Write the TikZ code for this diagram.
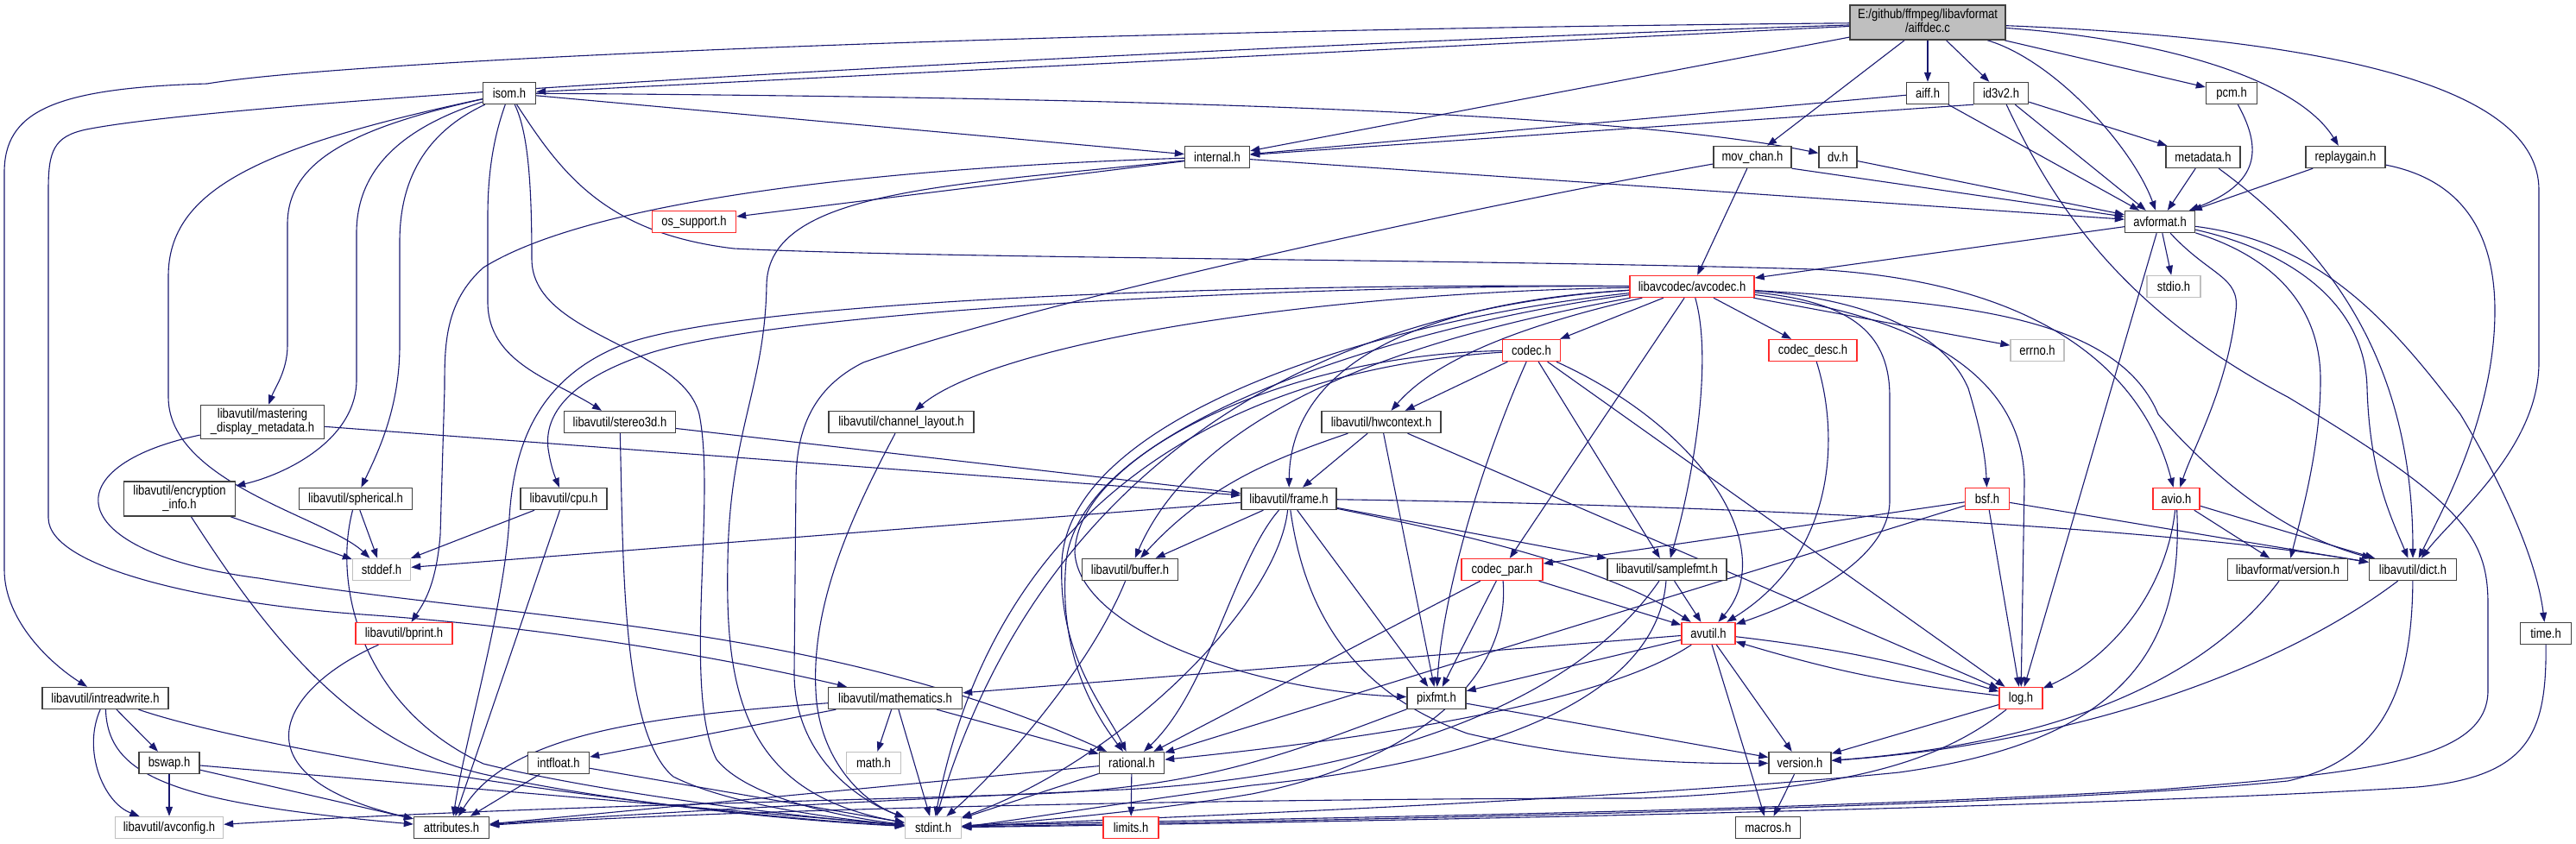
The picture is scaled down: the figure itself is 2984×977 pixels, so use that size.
\documentclass[tikz,border=0pt]{standalone}
\usepackage{graphicx}
\usepackage{fontspec}
\setmainfont{Liberation Sans}
\usetikzlibrary{arrows.meta}
\pgfdeclarelayer{edgelayer}
\pgfsetlayers{edgelayer,main}
\definecolor{edgec}{HTML}{191970}
\definecolor{redb}{HTML}{FF2A2A}
\definecolor{blkb}{HTML}{404040}
\definecolor{grayb}{HTML}{BFBFBF}
\definecolor{mainfill}{HTML}{BFBFBF}
\newcommand\nfnt{\fontsize{15.5}{15}\selectfont}
\newcommand\lb[1]{\scalebox{0.84}[1]{#1}}
\newcommand\lbb[2]{\scalebox{0.84}[1]{\begin{tabular}{@{}c@{}}#1\\#2\end{tabular}}}
\tikzset{
  nb/.style={draw=blkb, fill=white, line width=1.4pt, minimum height=25pt, inner sep=0pt, font=\nfnt},
  nr/.style={nb, draw=redb},
  ng/.style={nb, draw=grayb},
  mainbox/.style={nb, fill=mainfill, minimum width=180pt, minimum height=40pt},
  ed/.style={draw=edgec, line width=1.1pt, -{Triangle[length=11pt,width=8pt]}},
}
\begin{document}
\begin{tikzpicture}[x=1pt,y=-1pt]
\useasboundingbox (0,0) rectangle (2984,977);
% ---------------- nodes ----------------
\node[mainbox] (main) at (2233,26) {\lbb{E:/github/ffmpeg/libavformat}{/aiffdec.c}};
\node[nb,minimum width=61pt] (isom) at (590,108) {\lb{isom.h}};
\node[nb,minimum width=49pt] (aiff) at (2233,108) {\lb{aiff.h}};
\node[nb,minimum width=63pt] (id3v2) at (2318,108) {\lb{id3v2.h}};
\node[nb,minimum width=59pt] (pcm) at (2585,108) {\lb{pcm.h}};
\node[nb,minimum width=75pt] (internal) at (1410,182) {\lb{internal.h}};
\node[nb,minimum width=90pt] (movchan) at (2030,182) {\lb{mov\_chan.h}};
\node[nb,minimum width=44pt] (dv) at (2129,182) {\lb{dv.h}};
\node[nb,minimum width=86pt] (metadata) at (2552,182) {\lb{metadata.h}};
\node[nb,minimum width=92pt] (replaygain) at (2717,182) {\lb{replaygain.h}};
\node[nb,minimum width=81pt] (avformat) at (2502,257) {\lb{avformat.h}};
\node[nr,minimum width=97pt] (ossupport) at (804,257) {\lb{os\_support.h}};
\node[ng,minimum width=62pt] (stdio) at (2518,332) {\lb{stdio.h}};
\node[nr,minimum width=144pt] (avcodec) at (1960,332) {\lb{libavcodec/avcodec.h}};
\node[ng,minimum width=62pt] (errno) at (2360,406) {\lb{errno.h}};
\node[nr,minimum width=67pt] (codec) at (1774,406) {\lb{codec.h}};
\node[nr,minimum width=102pt] (codecdesc) at (2100,406) {\lb{codec\_desc.h}};
\node[nb,minimum width=143pt,minimum height=39pt] (mastering) at (304,489) {\lbb{libavutil/mastering}{\_display\_metadata.h}};
\node[nb,minimum width=129pt] (stereo) at (718,489) {\lb{libavutil/stereo3d.h}};
\node[nb,minimum width=168pt] (chlayout) at (1044,489) {\lb{libavutil/channel\_layout.h}};
\node[nb,minimum width=138pt] (hwcontext) at (1600,489) {\lb{libavutil/hwcontext.h}};
\node[nb,minimum width=129pt,minimum height=40pt] (encryption) at (208,578) {\lbb{libavutil/encryption}{\_info.h}};
\node[nb,minimum width=131pt] (spherical) at (412,578) {\lb{libavutil/spherical.h}};
\node[nb,minimum width=100pt] (cpu) at (653,578) {\lb{libavutil/cpu.h}};
\node[nb,minimum width=110pt] (frame) at (1493,578) {\lb{libavutil/frame.h}};
\node[nr,minimum width=51pt] (bsf) at (2302,578) {\lb{bsf.h}};
\node[nr,minimum width=54pt] (avio) at (2521,578) {\lb{avio.h}};
\node[ng,minimum width=67pt] (stddef) at (442,660) {\lb{stddef.h}};
\node[nb,minimum width=111pt] (buffer) at (1309,660) {\lb{libavutil/buffer.h}};
\node[nr,minimum width=94pt] (codecpar) at (1740,660) {\lb{codec\_par.h}};
\node[nb,minimum width=138pt] (samplefmt) at (1931,660) {\lb{libavutil/samplefmt.h}};
\node[nb,minimum width=139pt] (lavfversion) at (2650,660) {\lb{libavformat/version.h}};
\node[nb,minimum width=101pt] (dict) at (2795,660) {\lb{libavutil/dict.h}};
\node[nr,minimum width=112pt] (bprint) at (468,734) {\lb{libavutil/bprint.h}};
\node[nr,minimum width=62pt] (avutil) at (1979,734) {\lb{avutil.h}};
\node[nb,minimum width=59pt] (time) at (2949,734) {\lb{time.h}};
\node[nb,minimum width=146pt] (intreadwrite) at (122,809) {\lb{libavutil/intreadwrite.h}};
\node[nb,minimum width=155pt] (mathematics) at (1037,809) {\lb{libavutil/mathematics.h}};
\node[nb,minimum width=68pt] (pixfmt) at (1664,809) {\lb{pixfmt.h}};
\node[nr,minimum width=50pt] (log) at (2341,809) {\lb{log.h}};
\node[nb,minimum width=70pt] (bswap) at (196,884) {\lb{bswap.h}};
\node[nb,minimum width=71pt] (intfloat) at (647,884) {\lb{intfloat.h}};
\node[ng,minimum width=63pt] (math) at (1012,884) {\lb{math.h}};
\node[nb,minimum width=75pt] (rational) at (1311,884) {\lb{rational.h}};
\node[nb,minimum width=72pt] (version) at (2085,884) {\lb{version.h}};
\node[ng,minimum width=125pt] (avconfig) at (196,959) {\lb{libavutil/avconfig.h}};
\node[nb,minimum width=87pt] (attributes) at (523,959) {\lb{attributes.h}};
\node[ng,minimum width=65pt] (stdint) at (1081,959) {\lb{stdint.h}};
\node[nr,minimum width=64pt] (limits) at (1310,959) {\lb{limits.h}};
\node[nb,minimum width=75pt] (macros) at (2048,959) {\lb{macros.h}};
% ---------------- edges ----------------
\begin{pgfonlayer}{edgelayer}
% main
\draw[ed] (main) -- (isom);
\draw[ed] (main) -- (internal);
\draw[ed] (main) -- (aiff);
\draw[ed] (main) -- (id3v2);
\draw[ed] (main) -- (movchan);
\draw[ed] (main) -- (pcm);
\draw[ed] (main) .. controls (2500,45) and (2660,90) .. (replaygain);
\draw[ed] (main) .. controls (2380,70) and (2470,170) .. (avformat);
\draw[ed] (main) .. controls (1200,35) and (400,70) .. (240,97) .. controls (60,102) and (5,130) .. (5,200) -- (5,660) .. controls (5,720) and (60,770) .. (intreadwrite);
\draw[ed] (main) .. controls (1500,50) and (300,110) .. (100,150) .. controls (62,158) and (56,175) .. (56,220) -- (56,600) .. controls (56,660) and (250,700) .. (420,712) .. controls (650,728) and (850,765) .. (mathematics);
\draw[ed] (main) .. controls (2700,45) and (2941,100) .. (2941,220) -- (2941,420) .. controls (2941,520) and (2840,600) .. (dict);
% isom
\draw[ed] (isom) .. controls (300,170) and (195,220) .. (195,320) -- (195,460) .. controls (195,560) and (380,600) .. (stddef);
\draw[ed] (isom) .. controls (400,150) and (333,190) .. (333,260) -- (333,400) .. controls (333,430) and (318,450) .. (mastering);
\draw[ed] (isom) .. controls (460,150) and (413,200) .. (413,270) -- (413,440) .. controls (413,510) and (330,550) .. (encryption);
\draw[ed] (isom) .. controls (500,150) and (463,200) .. (463,280) -- (463,400) .. controls (463,470) and (440,520) .. (spherical);
\draw[ed] (isom) .. controls (575,150) and (565,190) .. (565,250) -- (565,350) .. controls (565,420) and (640,440) .. (stereo);
\draw[ed] (isom) .. controls (610,150) and (616,200) .. (616,300) .. controls (616,390) and (790,400) .. (810,480) .. controls (830,580) and (790,800) .. (830,880) .. controls (870,930) and (1000,950) .. (stdint);
\draw[ed] (isom) .. controls (650,200) and (700,270) .. (850,288) .. controls (1100,300) and (1700,300) .. (2100,312) .. controls (2350,325) and (2480,420) .. (avio);
\draw[ed] (isom) .. controls (1200,112) and (1850,125) .. (dv);
\draw[ed] (isom) -- (internal);
% internal
\draw[ed] (internal) -- (avformat);
\draw[ed] (internal) -- (ossupport);
\draw[ed] (internal) .. controls (1100,215) and (890,220) .. (888,330) .. controls (886,450) and (845,500) .. (843,650) .. controls (840,800) and (860,920) .. (stdint);
\draw[ed] (internal) .. controls (1000,195) and (680,235) .. (560,310) .. controls (515,350) and (515,400) .. (515,450) -- (510,620) .. controls (505,680) and (490,700) .. (bprint);
% aiff, id3v2, mov_chan, dv, pcm, metadata, replaygain
\draw[ed] (aiff) -- (avformat);
\draw[ed] (aiff) -- (internal);
\draw[ed] (id3v2.south west) -- (internal);
\draw[ed] (id3v2) -- (avformat);
\draw[ed] (id3v2) -- (metadata);
\draw[ed] (id3v2) .. controls (2380,240) and (2460,360) .. (2650,460) .. controls (2850,580) and (2882,620) .. (2882,700) -- (2882,800) .. controls (2882,880) and (2750,895) .. (2500,915) .. controls (2000,945) and (1300,950) .. (stdint);
\draw[ed] (movchan) .. controls (1700,240) and (1200,350) .. (1000,420) .. controls (940,450) and (922,500) .. (922,560) -- (920,780) .. controls (920,880) and (1000,930) .. (stdint);
\draw[ed] (movchan) -- (avcodec);
\draw[ed] (movchan.south east) -- (avformat);
\draw[ed] (dv) -- (avformat);
\draw[ed] (pcm) .. controls (2625,180) and (2610,215) .. (avformat);
\draw[ed] (metadata) -- (avformat);
\draw[ed] (metadata) .. controls (2700,290) and (2795,420) .. (dict);
\draw[ed] (replaygain) -- (avformat);
\draw[ed] (replaygain) .. controls (2860,210) and (2890,280) .. (2890,360) .. controls (2890,480) and (2830,590) .. (dict);
% avformat
\draw[ed] (avformat) -- (avcodec);
\draw[ed] (avformat) -- (stdio);
\draw[ed] (avformat) -- (log);
\draw[ed] (avformat) .. controls (2560,320) and (2595,320) .. (2590,360) .. controls (2580,450) and (2540,520) .. (avio);
\draw[ed] (avformat) .. controls (2640,300) and (2688,360) .. (2688,440) .. controls (2688,520) and (2665,600) .. (lavfversion);
\draw[ed] (avformat) .. controls (2650,290) and (2740,350) .. (2742,450) .. controls (2745,550) and (2770,600) .. (dict);
\draw[ed] (avformat) .. controls (2680,280) and (2760,360) .. (2850,480) .. controls (2910,580) and (2940,660) .. (time);
% avio
\draw[ed] (avio) .. controls (2530,760) and (2450,860) .. (2200,895) .. controls (1900,925) and (1400,945) .. (stdint);
\draw[ed] (avio) .. controls (2510,680) and (2450,760) .. (log);
\draw[ed] (avio) -- (lavfversion);
\draw[ed] (avio) -- (dict);
% lavf version, dict, time
\draw[ed] (lavfversion) .. controls (2560,780) and (2400,860) .. (version);
\draw[ed] (dict) .. controls (2650,770) and (2420,860) .. (version);
\draw[ed] (dict) .. controls (2794,800) and (2760,880) .. (2650,905) .. controls (2300,940) and (1400,952) .. (stdint);
\draw[ed] (time) .. controls (2950,850) and (2930,900) .. (2800,912) .. controls (2400,938) and (1400,955) .. (stdint);
% avcodec
\draw[ed] (avcodec) -- (errno);
\draw[ed] (avcodec) -- (codec);
\draw[ed] (avcodec) -- (codecdesc);
\draw[ed] (avcodec) .. controls (1750,380) and (1660,420) .. (hwcontext);
\draw[ed] (avcodec) -- (codecpar);
\draw[ed] (avcodec) .. controls (1985,420) and (1960,560) .. (samplefmt);
\draw[ed] (avcodec) .. controls (2150,350) and (2189,390) .. (2189,460) -- (2189,580) .. controls (2189,650) and (2080,700) .. (avutil);
\draw[ed] (avcodec) .. controls (2150,345) and (2250,380) .. (2280,450) .. controls (2295,500) and (2300,530) .. (bsf);
\draw[ed] (avcodec) .. controls (2250,350) and (2450,360) .. (2500,480) .. controls (2570,560) and (2650,620) .. (dict);
\draw[ed] (avcodec) .. controls (2250,370) and (2345,450) .. (2345,560) -- (log);
\draw[ed] (avcodec) .. controls (1650,350) and (1495,420) .. (frame);
\draw[ed] (avcodec) .. controls (1500,330) and (900,360) .. (750,410) .. controls (660,440) and (630,480) .. (635,520) .. controls (638,540) and (642,550) .. (cpu);
\draw[ed] (avcodec) .. controls (1400,328) and (850,350) .. (720,400) .. controls (620,440) and (595,520) .. (590,600) .. controls (585,700) and (540,850) .. (attributes);
\draw[ed] (avcodec) .. controls (1500,340) and (1150,400) .. (chlayout);
\draw[ed] (avcodec) .. controls (1700,380) and (1400,450) .. (buffer);
\draw[ed] (avcodec) .. controls (1600,370) and (1240,480) .. (1230,650) .. controls (1225,760) and (1280,820) .. (rational);
\draw[ed] (avcodec) .. controls (1600,380) and (1250,500) .. (1245,640) .. controls (1250,730) and (1450,800) .. (pixfmt);
\draw[ed] (avcodec) .. controls (1500,360) and (1200,560) .. (stdint);
% codec, codec_desc
\draw[ed] (codec) -- (hwcontext);
\draw[ed] (codec) .. controls (1710,550) and (1670,700) .. (pixfmt);
\draw[ed] (codec) -- (samplefmt);
\draw[ed] (codec) .. controls (1980,500) and (2060,640) .. (avutil);
\draw[ed] (codec) -- (log);
\draw[ed] (codec) .. controls (1500,410) and (1250,520) .. (1235,650) .. controls (1225,760) and (1270,830) .. (rational);
\draw[ed] (codec) .. controls (1400,430) and (1150,600) .. (stdint);
\draw[ed] (codecdesc) .. controls (2130,500) and (2130,640) .. (avutil);
% hwcontext
\draw[ed] (hwcontext) .. controls (1480,530) and (1400,560) .. (buffer);
\draw[ed] (hwcontext) -- (frame);
\draw[ed] (hwcontext) -- (pixfmt);
\draw[ed] (hwcontext) -- (log);
% frame
\draw[ed] (frame) -- (stddef);
\draw[ed] (frame) -- (buffer);
\draw[ed] (frame) .. controls (2000,585) and (2500,610) .. (dict);
\draw[ed] (frame) -- (samplefmt);
\draw[ed] (frame) .. controls (1650,610) and (1850,650) .. (avutil);
\draw[ed] (frame) -- (pixfmt);
\draw[ed] (frame) .. controls (1510,700) and (1560,800) .. (1700,850) .. controls (1850,885) and (1980,885) .. (version);
\draw[ed] (frame) .. controls (1430,650) and (1400,800) .. (rational);
\draw[ed] (frame) .. controls (1480,700) and (1300,880) .. (stdint);
% bsf
\draw[ed] (bsf) -- (codecpar);
\draw[ed] (bsf) -- (rational);
\draw[ed] (bsf) -- (log);
\draw[ed] (bsf) -- (dict);
% codec_par
\draw[ed] (codecpar) .. controls (1750,780) and (1650,880) .. (1450,920) .. controls (1300,945) and (1150,955) .. (stdint);
\draw[ed] (codecpar) -- (pixfmt);
\draw[ed] (codecpar) -- (rational);
\draw[ed] (codecpar) -- (avutil);
% samplefmt
\draw[ed] (samplefmt) -- (avutil);
\draw[ed] (samplefmt) .. controls (1920,800) and (1750,880) .. (1450,910) .. controls (1300,930) and (1150,955) .. (stdint);
\draw[ed] (samplefmt) .. controls (1800,850) and (1500,905) .. (1300,915) .. controls (1000,928) and (700,945) .. (attributes);
% avutil, log
\draw[ed] (avutil) -- (mathematics);
\draw[ed] (avutil) -- (pixfmt);
\draw[ed] (avutil) .. controls (1850,820) and (1550,860) .. (rational);
\draw[ed] (avutil) -- (macros);
\draw[ed] (avutil) -- (version);
\draw[ed] (avutil) to[bend left=5] (log);
\draw[ed] (log) to[bend left=5] (avutil);
\draw[ed] (log) -- (version);
\draw[ed] (log) .. controls (2250,880) and (2150,915) .. (1900,925) .. controls (1500,925) and (900,935) .. (attributes);
% mathematics and the bottom rows
\draw[ed] (mathematics) -- (stdint);
\draw[ed] (mathematics) -- (math);
\draw[ed] (mathematics) .. controls (750,830) and (590,850) .. (attributes);
\draw[ed] (mathematics) -- (rational);
\draw[ed] (mathematics) -- (intfloat);
\draw[ed] (intfloat) -- (stdint);
\draw[ed] (intfloat) -- (attributes);
\draw[ed] (rational) -- (stdint);
\draw[ed] (rational) -- (limits);
\draw[ed] (rational) -- (attributes);
\draw[ed] (version) -- (macros);
\draw[ed] (pixfmt) -- (version);
\draw[ed] (pixfmt) .. controls (1500,870) and (1400,912) .. (1200,920) .. controls (900,930) and (600,935) .. (avconfig);
\draw[ed] (buffer) .. controls (1260,780) and (1150,900) .. (stdint);
% libavutil small headers
\draw[ed] (cpu) -- (stddef);
\draw[ed] (cpu) -- (attributes);
\draw[ed] (spherical) -- (stddef);
\draw[ed] (spherical) .. controls (385,680) and (420,820) .. (560,885) .. controls (680,915) and (900,945) .. (stdint);
\draw[ed] (encryption) -- (stddef);
\draw[ed] (encryption) .. controls (300,720) and (400,860) .. (560,897) .. controls (700,928) and (900,950) .. (stdint);
\draw[ed] (stereo) .. controls (722,650) and (720,850) .. (780,900) .. controls (850,935) and (980,950) .. (stdint);
\draw[ed] (stereo) -- (frame);
\draw[ed] (mastering) -- (frame);
\draw[ed] (mastering) .. controls (60,540) and (70,640) .. (300,670) .. controls (600,720) and (950,720) .. (rational);
\draw[ed] (chlayout) .. controls (985,600) and (940,700) .. (945,800) .. controls (948,880) and (1000,930) .. (stdint);
\draw[ed] (bprint) .. controls (320,800) and (270,900) .. (attributes);
\draw[ed] (intreadwrite) .. controls (95,870) and (120,930) .. (avconfig);
\draw[ed] (intreadwrite) .. controls (125,900) and (200,930) .. (attributes);
\draw[ed] (intreadwrite) -- (bswap);
\draw[ed] (intreadwrite) .. controls (300,870) and (750,940) .. (stdint);
\draw[ed] (bswap) -- (avconfig);
\draw[ed] (bswap) -- (attributes);
\draw[ed] (bswap) -- (stdint);
\end{pgfonlayer}
\end{tikzpicture}
\end{document}
